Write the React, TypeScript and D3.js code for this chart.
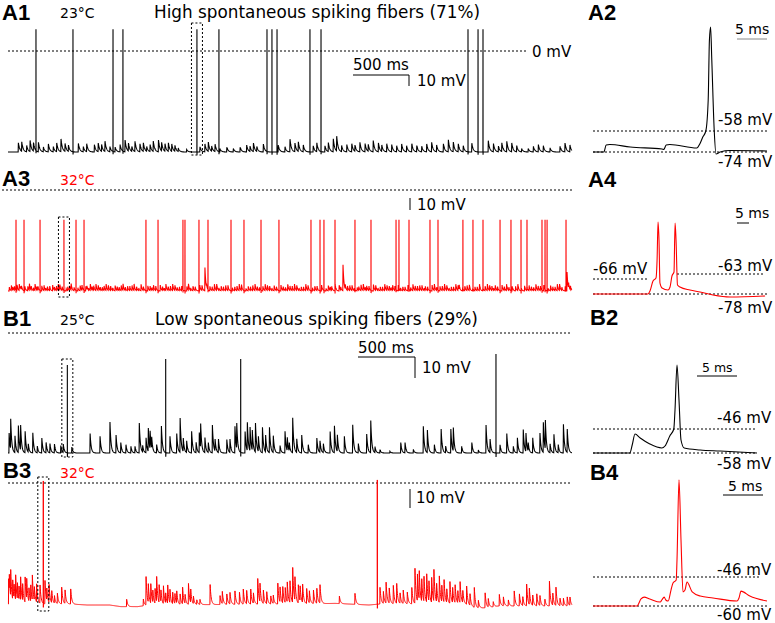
import React from "react";
import * as d3 from "d3";

const W = 775;
const H = 623;
const FONT = "'DejaVu Sans', sans-serif";
const BOLD = "'Liberation Sans', Arial, sans-serif";

// ---------------- A1 : high-SR fiber, 23 °C  (ms, mV)
const a1Rest = -74;
const a1SpikePeak = 16;
const a1SpikeTimes = [248, 576, 931, 1019, 1675, 1870, 2296, 2340, 2385, 2677, 2775, 4078, 4167, 4211];
const a1EventTimes = [92, 121, 165, 195, 225, 269, 313, 357, 402, 432, 470, 505, 535, 623, 668, 697, 765, 800, 830, 860, 904, 949, 993, 1037, 1067, 1097, 1126, 1170, 1200, 1229, 1259, 1288, 1333, 1362, 1392, 1421, 1451, 1480, 1510, 1584, 1702, 1746, 1776, 1806, 1835, 1879, 1939, 1998, 2057, 2116, 2145, 2175, 2205, 2264, 2396, 2456, 2500, 2544, 2574, 2618, 2706, 2737, 2810, 2840, 2884, 2914, 2958, 3003, 3047, 3076, 3120, 3165, 3194, 3238, 3283, 3313, 3357, 3401, 3446, 3490, 3534, 3579, 3623, 3667, 3712, 3756, 3800, 3859, 3903, 3948, 3992, 4036, 4111, 4258, 4303, 4347, 4377, 4421, 4465, 4510, 4554, 4612, 4657, 4701, 4746, 4805, 4893, 4938, 4982];
const a1EventAmps = [6.8, 7.5, 5, 8.8, 6.8, 7.5, 3.8, 6.3, 3.8, 6.3, 9.3, 6.3, 5, 6.8, 3.8, 6.3, 5.8, 6.3, 5, 7.5, 3.8, 3.8, 5.8, 9.3, 6.3, 3.8, 7.5, 5.8, 6.3, 3.8, 5.5, 7.5, 9.3, 6.3, 5.5, 6.8, 5.8, 4.3, 2.5, 1.8, 3.8, 5.8, 6.8, 3.8, 5.8, 2.5, 3.8, 2.5, 3.8, 5, 4.3, 6.8, 3.8, 5.8, 5, 3.8, 9.3, 6.3, 7, 5, 4.5, 7, 4.5, 6.5, 9.5, 10.8, 4.5, 5.8, 6.5, 4.5, 7, 6.5, 5, 8.3, 7, 5, 6.5, 5.8, 4.5, 5.8, 4.5, 6.5, 5, 4.5, 5.8, 7, 5, 6.5, 9.5, 7, 5.8, 4.5, 7, 8.3, 6.5, 4.5, 7, 8.3, 7, 4.5, 2.5, 2.5, 4.5, 5.8, 4.5, 3.3, 4.5, 6.5, 5];

// ---------------- A3 : high-SR fiber, 32 °C
const a3Rest = -78;
const a3SpikePeak = -23;
const a3SpikeTimes = [71, 142, 284, 496, 603, 674, 1223, 1330, 1551, 1569, 1693, 1773, 1977, 2092, 2243, 2402, 2686, 2766, 2801, 2899, 3076, 3218, 3440, 3466, 3555, 3741, 3812, 4033, 4122, 4211, 4362, 4459, 4548, 4601, 4734, 4761, 4779, 4947];
const a3EventTimes = [30, 58, 100, 120, 175, 205, 240, 265, 320, 350, 395, 430, 460, 530, 560, 640, 700, 730, 760, 800, 835, 870, 910, 950, 985, 1020, 1060, 1100, 1140, 1180, 1260, 1290, 1370, 1400, 1440, 1480, 1520, 1600, 1640, 1720, 1746, 1810, 1850, 1890, 1930, 2010, 2050, 2130, 2170, 2210, 2280, 2320, 2360, 2440, 2480, 2520, 2560, 2600, 2640, 2720, 2840, 2870, 2935, 2970, 3010, 3050, 3110, 3150, 3180, 3260, 3300, 3340, 3380, 3410, 3500, 3590, 3630, 3670, 3700, 3780, 3850, 3890, 3930, 3970, 4000, 4070, 4160, 4250, 4290, 4320, 4400, 4420, 4500, 4580, 4640, 4680, 4700, 4810, 4850, 4890, 4955, 4985];
const a3EventAmps = [4, 3, 5, 3, 4, 3.5, 5, 3, 4, 3, 5, 3.5, 4, 3, 5, 4, 3, 5, 3.5, 4, 3, 5, 3.5, 4, 3, 5, 3.5, 4, 3, 5, 3.5, 4, 3, 5, 3.5, 4, 3, 5, 3.5, 4, 18, 3, 5, 3.5, 4, 3, 5, 3.5, 4, 3, 5, 3.5, 4, 3, 5, 3.5, 4, 3, 5, 3.5, 4, 3, 5, 20, 3.5, 4, 3, 5, 3.5, 4, 3, 5, 3.5, 4, 3, 5, 3.5, 4, 3, 5, 3.5, 4, 3, 5, 3.5, 4, 3, 5, 3.5, 4, 3, 5, 3.5, 4, 3, 5, 3.5, 4, 3, 5, 16, 3.5];
const a3NoiseTimes = [12, 44, 80, 110, 150, 190, 225, 255, 300, 335, 370, 412, 445, 480, 515, 545, 585, 620, 655, 690, 715, 745, 780, 818, 852, 890, 928, 968, 1003, 1040, 1080, 1118, 1160, 1200, 1240, 1275, 1310, 1350, 1385, 1420, 1460, 1500, 1540, 1585, 1620, 1660, 1700, 1760, 1790, 1830, 1870, 1910, 1950, 1990, 2030, 2070, 2110, 2150, 2190, 2230, 2260, 2300, 2340, 2380, 2420, 2460, 2500, 2540, 2580, 2620, 2660, 2700, 2740, 2780, 2820, 2855, 2900, 2950, 2990, 3030, 3070, 3095, 3130, 3165, 3200, 3240, 3280, 3320, 3360, 3395, 3430, 3460, 3480, 3520, 3545, 3570, 3610, 3650, 3690, 3720, 3760, 3800, 3830, 3870, 3910, 3950, 3990, 4030, 4050, 4090, 4120, 4140, 4180, 4210, 4230, 4270, 4305, 4340, 4380, 4440, 4470, 4520, 4550, 4600, 4620, 4660, 4720, 4750, 4790, 4830, 4870, 4910, 4940, 4970];
const a3NoiseAmps = [3, 2.5, 4.5, 2, 3.5, 5, 2.5, 3, 4, 2, 3.5, 2.5, 5.5, 3, 2, 4, 3, 2.5, 4.5, 3.5, 2, 3, 5, 2.5, 3.5, 4, 2, 3, 4.5, 2.5, 3.5, 5, 2, 3, 4, 2.5, 3.5, 4.5, 2, 3, 5, 2.5, 3.5, 4, 2, 3, 4.5, 2.5, 3.5, 5, 2, 3, 4, 2.5, 3.5, 4.5, 2, 3, 5, 2.5, 3.5, 4, 2, 3, 4.5, 2.5, 3.5, 5, 2, 3, 4, 2.5, 3.5, 4.5, 2, 3, 5, 2.5, 3.5, 4, 2, 3, 4.5, 2.5, 3.5, 5, 2, 3, 4, 2.5, 3.5, 4.5, 2, 3, 5, 2.5, 3.5, 4, 2, 3, 4.5, 2.5, 3.5, 5, 2, 3, 4, 2.5, 3.5, 4.5, 2, 3, 5, 2.5, 3.5, 4, 2, 3, 4.5, 2.5, 3.5, 5, 2, 3, 4, 2.5, 3.5, 4.5, 2, 3, 5, 2.5, 3.5, 4];

// ---------------- B1 : low-SR fiber, 25 °C
const b1Rest = -58;
const b1SpikeTimes = [526, 1398, 2063, 4326];
const b1SpikePeaks = [-15.5, -12.6, -12.6, -10.2];
const b1EventTimes = [10, 24, 62, 91, 112, 151, 180, 219, 260, 299, 337, 372, 411, 467, 490, 565, 727, 816, 904, 957, 999, 1046, 1090, 1126, 1164, 1194, 1223, 1244, 1259, 1274, 1318, 1359, 1436, 1495, 1525, 1554, 1584, 1628, 1667, 1696, 1708, 1746, 1776, 1811, 1835, 1865, 1939, 1968, 2012, 2027, 2101, 2122, 2145, 2166, 2193, 2219, 2255, 2284, 2317, 2352, 2411, 2456, 2476, 2494, 2524, 2559, 2603, 2662, 2737, 2766, 2795, 2855, 2893, 2920, 2982, 3056, 3106, 3180, 3215, 3253, 3298, 3386, 3481, 3519, 3593, 3682, 3717, 3779, 3839, 3880, 3925, 3948, 4022, 4111, 4169, 4238, 4273, 4362, 4421, 4480, 4515, 4568, 4592, 4612, 4651, 4716, 4746, 4763, 4805, 4840, 4878, 4923, 4958];
const b1EventAmps = [9.7, 14.5, 8.1, 14.5, 12.1, 11.6, 4, 10.9, 3.2, 8.1, 5.6, 4.5, 4.8, 4, 4, 3.2, 10.5, 8.1, 15, 9.7, 5.6, 4, 3.2, 3.2, 14.5, 3.2, 8.1, 11.3, 9.7, 5.6, 4, 14.5, 8.1, 10.5, 18.5, 6.5, 5.6, 10.5, 5.6, 9.7, 11.6, 7.3, 4.8, 15, 6.5, 7.3, 7.3, 6.5, 12.9, 13.7, 11.6, 13.7, 12.9, 9.7, 15.6, 8.1, 13.7, 8.1, 13.7, 8.1, 4, 10.5, 6.5, 4, 16.9, 7.3, 9.7, 4, 8.1, 5.6, 4.8, 11.6, 14.5, 8.1, 8.1, 13.7, 4.5, 9.2, 17.3, 3.2, 1.6, 0.8, 5.6, 5.6, 2, 12.9, 12.1, 4.5, 12.9, 3.2, 12.9, 11.3, 3.2, 5.6, 1.6, 13.5, 7.3, 4, 10.5, 3.2, 8.1, 11.3, 8.9, 4, 8.1, 9.7, 14.5, 15.6, 4.8, 8.9, 4, 15.5, 11.3];

// ---------------- B3 : low-SR fiber, 32 °C
const b3RestTimes = [0, 550, 700, 900, 1000, 1150, 1250, 2600, 2900, 3200, 3300, 4050, 4150, 4250, 4350, 5000];
const b3RestValues = [-59.5, -59.5, -60, -60, -60.8, -60.8, -60, -59.5, -59.2, -60, -59.5, -59.5, -61.6, -61.3, -60.5, -60.5];
const b3SpikeTimes = [313, 3274];
const b3SpikePeaks = [1, 1.5];
const b3EventTimes = [5, 12, 24, 41, 53, 68, 83, 98, 112, 130, 151, 166, 186, 201, 216, 234, 254, 284, 328, 343, 363, 387, 411, 437, 476, 505, 556, 1052, 1200, 1223, 1244, 1265, 1283, 1303, 1318, 1339, 1356, 1377, 1398, 1416, 1436, 1460, 1480, 1495, 1525, 1548, 1569, 1599, 1620, 1643, 1673, 1702, 1791, 1879, 1900, 1939, 1968, 2012, 2051, 2086, 2116, 2152, 2175, 2214, 2234, 2264, 2293, 2329, 2352, 2391, 2411, 2435, 2458, 2476, 2500, 2524, 2544, 2574, 2589, 2612, 2648, 2671, 2707, 2737, 2766, 2937, 3076, 3298, 3327, 3351, 3380, 3416, 3446, 3475, 3504, 3540, 3579, 3608, 3629, 3646, 3667, 3688, 3712, 3732, 3756, 3776, 3800, 3824, 3845, 3865, 3889, 3918, 3942, 3963, 3987, 4007, 4031, 4066, 4096, 4134, 4169, 4229, 4258, 4302, 4356, 4391, 4435, 4488, 4533, 4563, 4598, 4621, 4651, 4687, 4716, 4760, 4799, 4829, 4858, 4893, 4923, 4958, 4982];
const b3EventAmps = [13.9, 8.2, 13.1, 10.7, 7.4, 12.3, 9, 6.6, 11.5, 8.2, 13.9, 9.8, 6.6, 9, 12.3, 6.6, 9, 9, 11.5, 6.6, 9.8, 6.6, 4.1, 5.7, 8.2, 7.4, 7.4, 3.6, 3.3, 15.6, 9, 10.7, 6.6, 8.2, 12.3, 9.8, 5.7, 9.8, 4.9, 9, 6.6, 5.7, 4.9, 6.6, 5.7, 8.2, 4.9, 11.5, 6.6, 4.1, 2.5, 2.5, 11, 4.9, 6, 5.7, 5.7, 6.6, 6.6, 7.4, 6.6, 7.4, 5.7, 12.6, 9, 6.6, 6.6, 4.4, 4.1, 11.5, 8.2, 9, 7.4, 9.8, 10.7, 17.2, 11.5, 9, 8.2, 9, 7.4, 6.6, 7.4, 8.2, 9, 4.1, 5.4, 8.2, 6.6, 11.5, 7.4, 9, 9.8, 5.7, 6.6, 5.7, 9, 17.2, 14.8, 13.9, 12.3, 12.3, 13.9, 9.8, 12.3, 15.6, 9, 13.1, 9, 12.3, 7.4, 10.7, 7.4, 9.8, 6.6, 11.5, 6.6, 9, 5.7, 9.8, 4.1, 8.2, 4.1, 2.5, 5.7, 4.9, 3.3, 7.4, 6.6, 4.9, 10.7, 9, 5.7, 6.6, 4.9, 3.3, 13.6, 6.6, 9, 4.1, 4.1, 4.4, 4.1];

// ---------------- expanded single-spike sweeps [ms, mV]
const a2Trace = [[0, -74], [1.8, -74], [2.2, -68.7], [2.8, -68.3], [6.2, -70.2], [11.5, -71.7], [11.8, -72], [12.2, -68.7], [12.8, -68.3], [17.3, -71], [17.8, -67.9], [18.3, -62.6], [18.8, -58], [19.2, -34.4], [19.4, 11], [19.6, 21.2], [19.8, -4], [20.2, -57.2], [20.5, -75.5], [21.2, -74], [22.8, -72.9], [29, -73.2]];
const a4Trace = [[0, -78], [22.9, -78], [23.75, -75.75], [25, -68.25], [26.25, -66], [26.7, -52.5], [27.1, -24], [27.5, -37.5], [27.9, -69.75], [28.75, -73.5], [31.25, -75], [32.1, -72.75], [32.9, -64.5], [33.75, -61.5], [34.2, -24.75], [34.6, -37.5], [35.2, -71.25], [36.25, -72.75], [40.4, -75], [44.6, -76.5], [50, -78.75], [57.1, -80.25], [71.7, -79.5]];
const b2Trace = [[0, -58], [4.6, -58], [4.9, -54], [5.25, -48.5], [5.9, -50.5], [7.1, -53.5], [8.6, -55.5], [9, -54.5], [9.6, -49.5], [10.1, -46], [10.25, -36.5], [10.5, -14], [10.75, -31.5], [11, -51.5], [11.4, -55.5], [13.4, -56.5], [15.9, -57], [20.5, -58]];
const b4Trace = [[0, -60], [5.5, -60], [6, -56.6], [6.4, -55.7], [7.1, -56.6], [8.4, -58.1], [8.6, -57.1], [8.9, -55.7], [9.1, -57.1], [9.4, -57.6], [9.75, -52.3], [10, -48.9], [10.4, -47.4], [10.5, -37.8], [10.75, 0.9], [11, -28.1], [11.25, -53.2], [11.5, -52.3], [11.75, -48.4], [12.4, -53.2], [13.4, -55.2], [15, -56.1], [18, -57.6], [18.25, -56.1], [18.5, -52.8], [19.6, -55.2], [21.75, -57.6]];

type Pt = [number, number];

function buildTrace(
  restT: number[], restV: number[],
  evT: number[], evA: number[], tau: number,
  spT: number[], spP: number[], tEnd = 5000, dt = 2
): Pt[] {
  const base = d3.scaleLinear().domain(restT).range(restV).clamp(true);
  const val = (t: number) => {
    let v = base(t);
    for (let i = 0; i < evT.length; i++) {
      const d = t - evT[i];
      if (d >= 0 && d < tau * 10) v += evA[i] * Math.exp(-d / tau);
    }
    return v;
  };
  const pts: Pt[] = d3.range(0, tEnd + 0.001, dt).map((t) => [t, val(t)] as Pt);
  spT.forEach((ts, i) => {
    pts.push([ts - 0.5, val(ts - 0.5)], [ts, spP[i]], [ts + 0.5, val(ts + 0.5) - 2]);
  });
  pts.sort((a, b) => a[0] - b[0]);
  return pts;
}

const xLong = d3.scaleLinear().domain([0, 5000]).range([8, 572]);
const yA1 = d3.scaleLinear().domain([-74, 0]).range([152, 51]);
const yA3 = d3.scaleLinear().domain([-78, 0]).range([291, 190]);
const yB1 = d3.scaleLinear().domain([-58, 0]).range([453, 333]);
const yB3 = d3.scaleLinear().domain([-60, 0]).range([605, 483]);

const xA2 = d3.scaleLinear().domain([0, 29]).range([593, 767]);
const yA2 = d3.scaleLinear().domain([-74, -58]).range([152, 131]);
const xA4 = d3.scaleLinear().domain([0, 72.5]).range([593, 767]);
const yA4 = d3.scaleLinear().domain([-78, -63]).range([294, 274]);
const xB2 = d3.scaleLinear().domain([0, 20.5]).range([593, 757]);
const yB2 = d3.scaleLinear().domain([-58, -46]).range([453, 429]);
const xB4 = d3.scaleLinear().domain([0, 21.75]).range([593, 767]);
const yB4 = d3.scaleLinear().domain([-60, -46]).range([606, 577]);

const RED = "#ff0000";

function Dash({ x1, x2, y }: { x1: number; x2: number; y: number }) {
  return <line x1={x1} x2={x2} y1={y} y2={y} stroke="#000" strokeWidth={1} strokeDasharray="2,2" />;
}

function Txt({ x, y, children, size = 15, color = "#000", bold = false, tl }: any) {
  return (
    <text x={x} y={y} fontSize={size} fill={color} fontFamily={bold ? BOLD : FONT} fontWeight={bold ? "bold" : "normal"}
      textLength={tl} lengthAdjust={tl ? "spacingAndGlyphs" : undefined}>
      {children}
    </text>
  );
}

export default function App() {
  const a1 = buildTrace([0, 5000], [a1Rest, a1Rest], a1EventTimes, a1EventAmps, 12, a1SpikeTimes, a1SpikeTimes.map(() => a1SpikePeak));
  const a3 = buildTrace([0, 5000], [a3Rest, a3Rest], [...a3EventTimes, ...a3NoiseTimes], [...a3EventAmps, ...a3NoiseAmps], 8, a3SpikeTimes, a3SpikeTimes.map(() => a3SpikePeak));
  const b1 = buildTrace([0, 5000], [b1Rest, b1Rest], b1EventTimes, b1EventAmps, 9, b1SpikeTimes, b1SpikePeaks);
  const b3 = buildTrace(b3RestTimes, b3RestValues, b3EventTimes, b3EventAmps, 9, b3SpikeTimes, b3SpikePeaks);

  const longLine = (y: d3.ScaleLinear<number, number>) => d3.line<Pt>().x((d) => xLong(d[0])).y((d) => y(d[1]));
  const zoomLine = (x: d3.ScaleLinear<number, number>, y: d3.ScaleLinear<number, number>) =>
    d3.line<number[]>().x((d) => x(d[0])).y((d) => y(d[1])).curve(d3.curveMonotoneX);

  const box = (t: number, top: number, bottom: number) => (
    <rect x={xLong(t) - 5.5} y={top} width={11} height={bottom - top} fill="none" stroke="#000" strokeWidth={1} strokeDasharray="2,2" />
  );

  return (
    <svg width={W} height={H} style={{ position: "absolute", left: 0, top: 0, background: "#fff" }}>
      <rect width={W} height={H} fill="#fff" />

      {/* ===== A1 ===== */}
      <Txt x={2} y={20} size={22} bold>A1</Txt>
      <Txt x={60} y={18} size={14}>23°C</Txt>
      <Txt x={154} y={18} size={16.8} tl={326}>High spontaneous spiking fibers (71%)</Txt>
      <Dash x1={8} x2={528} y={yA1(0)} />
      <Txt x={532} y={57} size={15}>0 mV</Txt>
      <path d={longLine(yA1)(a1) || ""} fill="none" stroke="#000" strokeWidth={1.1} />
      {box(a1SpikeTimes[4], 23, 155)}
      <line x1={353} x2={409} y1={75} y2={75} stroke="#000" strokeWidth={1} />
      <line x1={409} x2={409} y1={75} y2={86} stroke="#000" strokeWidth={1} />
      <Txt x={353} y={70} size={15}>500 ms</Txt>
      <Txt x={417} y={86} size={15}>10 mV</Txt>

      {/* ===== A2 ===== */}
      <Txt x={588} y={20} size={22} bold>A2</Txt>
      <Txt x={735} y={34} size={14}>5 ms</Txt>
      <line x1={xA2(0) + 144} x2={xA2(0) + 144 + (xA2(5) - xA2(0))} y1={39} y2={39} stroke="#888" strokeWidth={1} />
      <Dash x1={593} x2={767} y={yA2(-58)} />
      <Dash x1={593} x2={767} y={yA2(-74)} />
      <Txt x={718} y={125} size={15}>-58 mV</Txt>
      <Txt x={718} y={167} size={15}>-74 mV</Txt>
      <path d={zoomLine(xA2, yA2)(a2Trace) || ""} fill="none" stroke="#000" strokeWidth={1.1} />

      {/* ===== A3 ===== */}
      <Txt x={2} y={186} size={22} bold>A3</Txt>
      <Txt x={60} y={185} size={14} color={RED}>32°C</Txt>
      <Dash x1={2} x2={572} y={yA3(0)} />
      <line x1={410} x2={410} y1={198} y2={210} stroke="#000" strokeWidth={1} />
      <Txt x={417} y={210} size={15}>10 mV</Txt>
      <path d={longLine(yA3)(a3) || ""} fill="none" stroke={RED} strokeWidth={1.1} />
      {box(a3SpikeTimes[3], 217, 297)}

      {/* ===== A4 ===== */}
      <Txt x={588} y={187} size={22} bold>A4</Txt>
      <Txt x={735} y={218} size={14}>5 ms</Txt>
      <line x1={737} x2={737 + (xA4(5) - xA4(0))} y1={223} y2={223} stroke="#000" strokeWidth={1} />
      <Dash x1={593} x2={647} y={279} />
      <Dash x1={677} x2={765} y={yA4(-63)} />
      <Dash x1={593} x2={767} y={yA4(-78)} />
      <Txt x={593} y={274} size={15}>-66 mV</Txt>
      <Txt x={718} y={271} size={15}>-63 mV</Txt>
      <Txt x={718} y={313} size={15}>-78 mV</Txt>
      <path d={zoomLine(xA4, yA4)(a4Trace) || ""} fill="none" stroke={RED} strokeWidth={1.1} />

      {/* ===== B1 ===== */}
      <Txt x={3} y={326} size={22} bold>B1</Txt>
      <Txt x={60} y={325} size={14}>25°C</Txt>
      <Txt x={155} y={325} size={16.8} tl={323}>Low spontaneous spiking fibers (29%)</Txt>
      <Dash x1={8} x2={572} y={yB1(0)} />
      <line x1={358} x2={415} y1={357} y2={357} stroke="#000" strokeWidth={1} />
      <line x1={415} x2={415} y1={357} y2={378} stroke="#000" strokeWidth={1} />
      <Txt x={358} y={353} size={15}>500 ms</Txt>
      <Txt x={422} y={373} size={15}>10 mV</Txt>
      <path d={longLine(yB1)(b1) || ""} fill="none" stroke="#000" strokeWidth={1.1} />
      {box(b1SpikeTimes[0], 359, 457)}

      {/* ===== B2 ===== */}
      <Txt x={590} y={325} size={22} bold>B2</Txt>
      <Txt x={702} y={372} size={12.5}>5 ms</Txt>
      <line x1={697} x2={697 + (xB2(5) - xB2(0))} y1={376} y2={376} stroke="#000" strokeWidth={1} />
      <Dash x1={593} x2={757} y={yB2(-46)} />
      <Dash x1={593} x2={757} y={yB2(-58)} />
      <Txt x={717} y={423} size={15}>-46 mV</Txt>
      <Txt x={717} y={469} size={15}>-58 mV</Txt>
      <path d={zoomLine(xB2, yB2)(b2Trace) || ""} fill="none" stroke="#000" strokeWidth={1.1} />

      {/* ===== B3 ===== */}
      <Txt x={3} y={478} size={22} bold>B3</Txt>
      <Txt x={60} y={478} size={14} color={RED}>32°C</Txt>
      <Dash x1={8} x2={572} y={yB3(0)} />
      <line x1={410} x2={410} y1={489} y2={508} stroke="#000" strokeWidth={1} />
      <Txt x={416} y={503} size={15}>10 mV</Txt>
      <path d={longLine(yB3)(b3) || ""} fill="none" stroke={RED} strokeWidth={1} />
      {box(b3SpikeTimes[0], 477, 611)}

      {/* ===== B4 ===== */}
      <Txt x={590} y={480} size={22} bold>B4</Txt>
      <Txt x={728} y={491} size={14}>5 ms</Txt>
      <line x1={723} x2={723 + (xB4(5) - xB4(0))} y1={495} y2={495} stroke="#000" strokeWidth={1} />
      <Dash x1={593} x2={760} y={yB4(-46)} />
      <Dash x1={593} x2={767} y={yB4(-60)} />
      <Txt x={717} y={575} size={15}>-46 mV</Txt>
      <Txt x={717} y={620} size={15}>-60 mV</Txt>
      <path d={zoomLine(xB4, yB4)(b4Trace) || ""} fill="none" stroke={RED} strokeWidth={1.1} />
    </svg>
  );
}
